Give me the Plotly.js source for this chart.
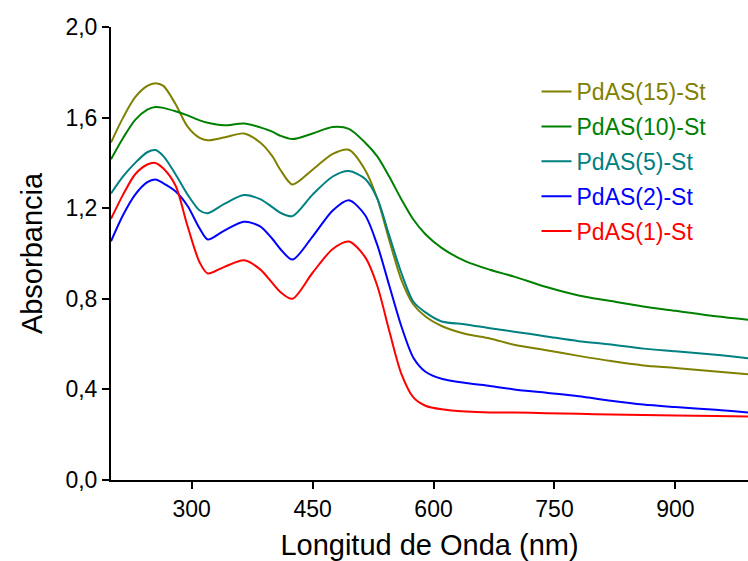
<!DOCTYPE html>
<html>
<head>
<meta charset="utf-8">
<script src="https://cdn.plot.ly/plotly-3.0.1.min.js"></script>
<style>html,body{margin:0;padding:0;background:#fff;}#chart{width:748px;height:561px;}</style>
</head>
<body>
<div id="chart"></div>
<script>
// Wavelength (nm)
const wavelength = [200,215,230,245,255,265,280,295,310,320,340,365,385,400,410,425,450,475,495,515,530,545,560,575,590,610,640,670,700,740,780,820,860,900,950,990];

// Absorbance series
const pdas15 = [1.49,1.60,1.69,1.74,1.752,1.74,1.66,1.56,1.51,1.50,1.512,1.53,1.49,1.43,1.37,1.305,1.37,1.44,1.458,1.37,1.245,1.06,0.885,0.775,0.722,0.68,0.645,0.625,0.597,0.573,0.548,0.525,0.506,0.495,0.479,0.467];
const pdas10 = [1.416,1.51,1.59,1.635,1.647,1.643,1.628,1.61,1.588,1.577,1.566,1.574,1.557,1.538,1.52,1.505,1.53,1.558,1.55,1.49,1.43,1.34,1.24,1.15,1.085,1.025,0.965,0.928,0.898,0.852,0.815,0.79,0.766,0.747,0.723,0.708];
const pdas5  = [1.265,1.34,1.40,1.447,1.457,1.43,1.35,1.26,1.19,1.178,1.218,1.258,1.24,1.205,1.18,1.165,1.26,1.34,1.364,1.33,1.245,1.08,0.915,0.787,0.74,0.70,0.687,0.67,0.655,0.634,0.613,0.598,0.58,0.568,0.553,0.538];
const pdas2  = [1.054,1.17,1.26,1.315,1.327,1.31,1.275,1.21,1.11,1.062,1.10,1.14,1.12,1.065,1.02,0.973,1.075,1.19,1.235,1.17,1.04,0.86,0.68,0.54,0.478,0.447,0.428,0.415,0.40,0.385,0.37,0.35,0.333,0.322,0.31,0.298];
const pdas1  = [1.153,1.26,1.35,1.393,1.40,1.375,1.30,1.12,0.96,0.912,0.94,0.97,0.93,0.87,0.83,0.80,0.915,1.02,1.053,0.985,0.86,0.66,0.47,0.365,0.328,0.312,0.302,0.298,0.298,0.295,0.292,0.289,0.287,0.285,0.283,0.28];

const seriesNames = ["PdAS(15)-St","PdAS(10)-St","PdAS(5)-St","PdAS(2)-St","PdAS(1)-St"];
const seriesValues = [pdas15, pdas10, pdas5, pdas2, pdas1];
const seriesColors = ["#808000","#008000","#008080","#0000FF","#FF0000"];

const xTicks = [300,450,600,750,900];
const yTicks = [0,0.4,0.8,1.2,1.6,2.0];

const traces = seriesNames.map((n,i)=>({
  x: wavelength,
  y: seriesValues[i],
  type: 'scatter',
  mode: 'lines',
  name: '<span style="color:'+seriesColors[i]+'">'+n+'</span>',
  legendgroup: 'g'+i,
  line: {color: seriesColors[i], width: 2, shape: 'spline', smoothing: 0.8}
}));

const font = "'Liberation Sans', Arial, sans-serif";
const layout = {
  width: 748, height: 561,
  margin: {l:111, r:0, t:27, b:81},
  paper_bgcolor: '#fff', plot_bgcolor: '#fff',
  separators: ',.',
  font: {family: font, color: '#000', size: 23},
  showlegend: true,
  legend: {
    x: 0.668, y: 0.905, xanchor: 'left', yanchor: 'top',
    bgcolor: 'rgba(0,0,0,0)', borderwidth: 0,
    font: {family: font, size: 23},
    traceorder: 'grouped', tracegroupgap: 2
  },
  xaxis: {
    range: [200, 990],
    tickmode: 'array', tickvals: xTicks, ticktext: xTicks.map(String),
    ticks: 'outside', ticklen: 7, tickwidth: 2, tickcolor: '#000',
    showline: true, linecolor: '#000', linewidth: 2,
    showgrid: false, zeroline: false,
    tickfont: {family: font, size: 23, color: '#000'},
    title: {text: 'Longitud de Onda (nm)', font: {family: font, size: 29, color: '#000'}},
    automargin: false
  },
  yaxis: {
    range: [0, 2.0],
    tickmode: 'array', tickvals: yTicks, ticktext: yTicks.map(v=>v.toFixed(1).replace('.',',')),
    ticks: 'outside', ticklen: 7, tickwidth: 2, tickcolor: '#000',
    showline: true, linecolor: '#000', linewidth: 2,
    showgrid: false, zeroline: false,
    tickfont: {family: font, size: 23, color: '#000'},
    title: {text: 'Absorbancia', font: {family: font, size: 29, color: '#000'}},
    automargin: false
  }
};

Plotly.newPlot('chart', traces, layout, {displayModeBar: false, staticPlot: true});
</script>
</body>
</html>
